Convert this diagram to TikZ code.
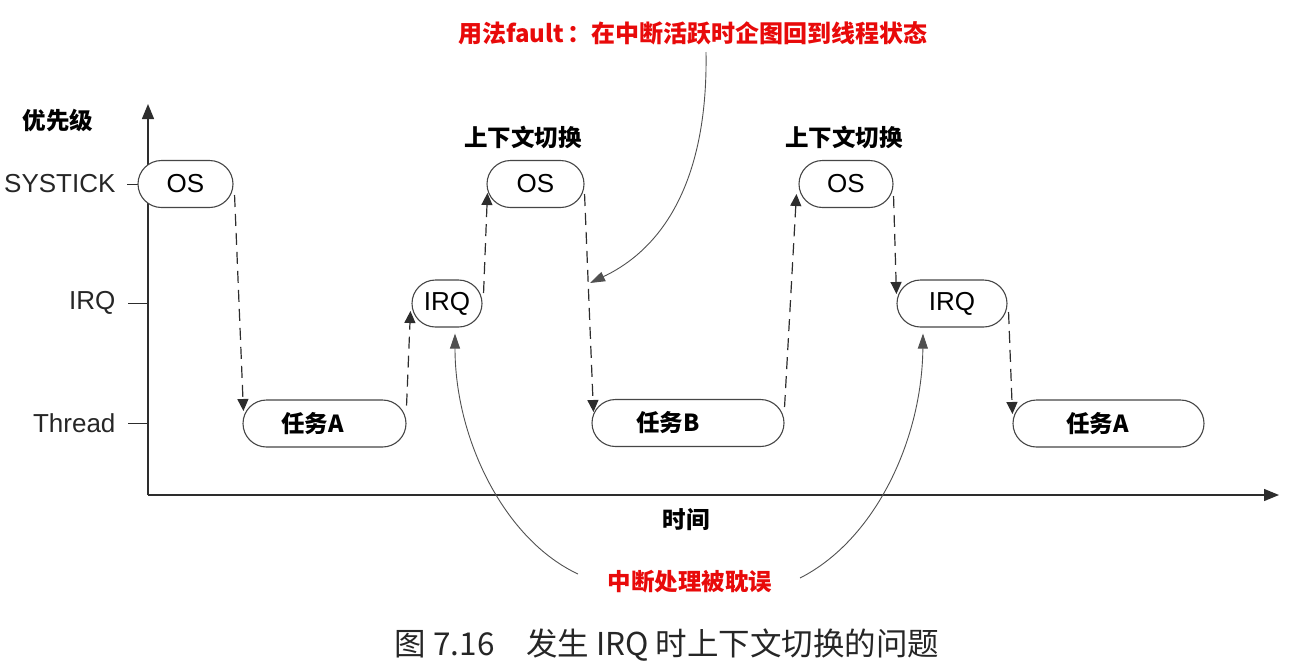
\documentclass[tikz,border=0pt]{standalone}
\usepackage{fontspec}
\setmainfont{Liberation Sans}
\newfontfamily\cjk{Noto Sans CJK SC}
\usetikzlibrary{arrows.meta,shapes.misc,calc}
\definecolor{axisgray}{RGB}{45,45,45}
\definecolor{boxgray}{RGB}{70,70,70}
\definecolor{curvegray}{RGB}{80,80,80}
\definecolor{redtxt}{RGB}{232,10,10}
\begin{document}
\begin{tikzpicture}[x=1pt,y=-1pt,
  state/.style={rounded rectangle, draw=boxgray, line width=1.1pt, fill=white,
    minimum height=47pt, inner sep=0pt, font=\fontsize{26}{30}\selectfont},
  task/.style={state, font=\cjk\bfseries\fontsize{23.5}{28}\selectfont},
  conn/.style={draw=axisgray, line width=1.2pt, dash pattern=on 12pt off 7pt,
    -{Triangle[length=12pt,width=11pt]}},
  curve/.style={draw=curvegray, line width=0.9pt, -{Triangle[length=15pt,width=10pt]}},
  axis/.style={draw=axisgray, line width=1.3pt, -{Triangle[length=15pt,width=12pt]}},
  lvl/.style={anchor=east, font=\fontsize{26}{30}\selectfont, text=black!85},
  cjkb/.style={font=\cjk\bfseries\fontsize{23.5}{28}\selectfont},
  rednote/.style={cjkb, text=redtxt},
]
\useasboundingbox (0,0) rectangle (1307,670);

% axes
\coordinate (o) at (148,495);
\coordinate (ytop) at (148,104);
\coordinate (xend) at (1279,495);
\draw[axis] (o) -- (ytop);
\draw[axis] (o) -- (xend);

% levels
\node[lvl] (lsys) at (119,184) {SYSTICK};
\node[lvl] (lirq) at (119,303) {IRQ};
\node[lvl] (lthr) at (119,423) {Thread};
\draw[axisgray, line width=1pt] (127,184) -- (140,184);
\draw[axisgray, line width=1pt] (128,303) -- (148,303);
\draw[axisgray, line width=1pt] (128,423) -- (148,423);
\node[cjkb] (prio) at (58,121) {优先级};
\node[cjkb] (time) at (686,520) {时间};

% boxes
\node[state, minimum width=95pt] (os1) at (185.5,184) {OS};
\node[task, minimum width=163pt] (ta1) at (324.5,423.5) {任务A\kern24pt\relax};
\node[state, minimum width=70pt] (irq1) at (447,303.5) {IRQ};
\node[state, minimum width=97pt] (os2) at (535.5,184) {OS};
\node[task, minimum width=192pt] (tb) at (688,423) {任务B\kern40pt\relax};
\node[state, minimum width=94pt] (os3) at (846,184) {OS};
\node[state, minimum width=110pt] (irq2) at (952,303.5) {IRQ};
\node[task, minimum width=191pt] (ta2) at (1108.5,423.5) {任务A\kern22pt\relax};

% context switch labels
\node[cjkb] (cs1) at (523,137) {上下文切换};
\node[cjkb] (cs2) at (844,137) {上下文切换};

% dashed transitions
\draw[conn] ($(os1.east)+(1,11)$) -- ($(ta1.west)+(1,-12.5)$);
\draw[conn] ($(ta1.east)+(0,-18)$) -- ($(irq1.west)+(-1,7.5)$);
\draw[conn] ($(irq1.east)+(1,-10.5)$) -- ($(os2.west)+(1,9)$);
\draw[conn] ($(os2.east)+(0,10)$) -- ($(tb.west)+(2,-11)$);
\draw[conn] ($(tb.east)+(0,-16)$) -- ($(os3.west)+(-2,10)$);
\draw[conn] ($(os3.east)+(0,12)$) -- ($(irq2.west)+(0,-9.5)$);
\draw[conn] ($(irq2.east)+(1,8.5)$) -- ($(ta2.west)+(0,-9.5)$);

% notes
\node[rednote, font=\cjk\bfseries\fontsize{24}{28}\selectfont] (note1) at (693,33) {用法fault\,：在中断活跃时企图回到线程状态};
\node[rednote] (note2) at (690,582) {中断处理被耽误};
\coordinate (n1s) at (706,52);
\coordinate (n1e) at (590,283);
\draw[curve] (n1s) .. controls (708,170) and (670,245) .. (n1e);
\coordinate (n2l) at (578,574);
\coordinate (n2r) at (800,578);
\draw[curve] (n2l) .. controls (505,540) and (455,440) .. ($(irq1.south)+(8,6)$);
\draw[curve] (n2r) .. controls (875,540) and (922,440) .. ($(irq2.south)+(-29,6)$);

% caption
\node[font=\cjk\fontsize{31.5}{36}\selectfont, text=black!85] (cap) at (667,645) {图 7.16\hspace{1em}发生 IRQ 时上下文切换的问题};
\end{tikzpicture}
\end{document}
